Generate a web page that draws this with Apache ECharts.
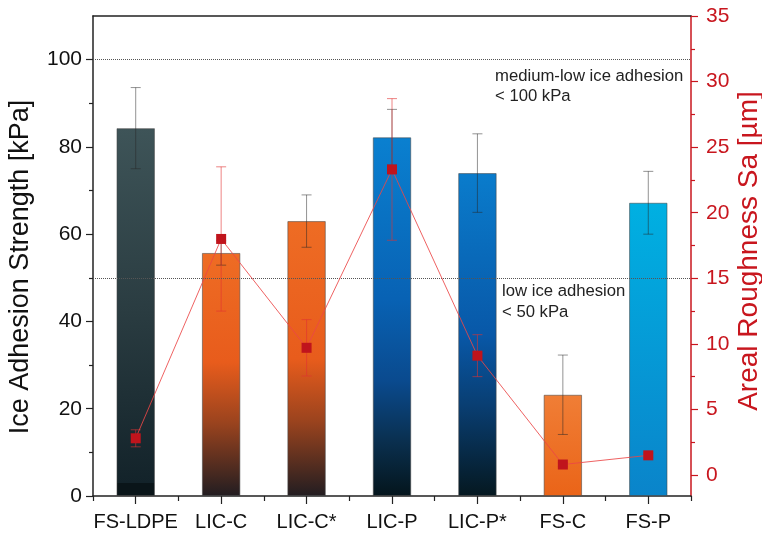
<!DOCTYPE html>
<html>
<head>
<meta charset="utf-8">
<script src="https://cdn.jsdelivr.net/npm/echarts@6/dist/echarts.min.js"></script>
<style>
html,body{margin:0;padding:0;background:#fff;}
#chart{width:762px;height:534px;}
</style>
</head>
<body>
<div id="chart"></div>
<script>
// ---- data ----
const categories = ['FS-LDPE', 'LIC-C', 'LIC-C*', 'LIC-P', 'LIC-P*', 'FS-C', 'FS-P'];
const adhesion = [84.3, 55.7, 63.0, 82.2, 74.0, 23.2, 67.2];          // kPa
const adhesionErr = [9.3, 2.8, 6.0, 6.4, 9.0, 9.1, 7.2];              // kPa
const roughness = [2.8, 18.0, 9.7, 23.3, 9.1, 0.8, 1.5];              // µm
const roughnessErr = [0.65, 5.5, 2.15, 5.4, 1.6, 0.15, 0.15];         // µm
const leftTicks = [0, 20, 40, 60, 80, 100];
const leftMinor = [10, 30, 50, 70, 90];
const rightTicks = [0, 5, 10, 15, 20, 25, 30, 35];
const rightMinor = [2.5, 7.5, 12.5, 17.5, 22.5, 27.5, 32.5];
const thresholds = [100, 50];
const leftTitle = 'Ice Adhesion Strength [kPa]';
const rightTitle = 'Areal Roughness Sa [µm]';
const noteHigh = 'medium-low ice adhesion\n< 100 kPa';
const noteLow = 'low ice adhesion\n< 50 kPa';

// ---- styles ----
const FONT = 'Liberation Sans, Arial, Helvetica, sans-serif';
const RED = '#c8161e';
function grad(stops) {
  return new echarts.graphic.LinearGradient(0, 0, 0, 1,
    stops.map(s => ({ offset: s[0], color: s[1] })));
}
const barColors = [
  grad([[0, '#3e5458'], [0.5, '#2a3c41'], [0.964, '#13232a'], [0.966, '#0a1519'], [1, '#0a1519']]),
  grad([[0, '#ee6c24'], [0.45, '#e85c1c'], [0.7, '#9a431e'], [1, '#221d21']]),
  grad([[0, '#ee6c24'], [0.5, '#e85c1c'], [0.73, '#9a431e'], [1, '#221d21']]),
  grad([[0, '#0a80d0'], [0.45, '#0862b4'], [0.68, '#0a4a8e'], [0.85, '#0a2f4e'], [1, '#04151c']]),
  grad([[0, '#0a7ccc'], [0.5, '#0858a8'], [0.72, '#093e72'], [1, '#051820']]),
  grad([[0, '#f07e36'], [1, '#ea6418']]),
  grad([[0, '#00b0e2'], [1, '#0a84ca']])
];

function errorRender(color) {
  return function (params, api) {
    const i = api.value(0), v = api.value(1), e = api.value(2);
    const top = api.coord([i, v + e]);
    const bot = api.coord([i, v - e]);
    const w = 5;
    const st = { stroke: color, lineWidth: 1 };
    return {
      type: 'group',
      children: [
        { type: 'line', shape: { x1: top[0], y1: top[1], x2: bot[0], y2: bot[1] }, style: st },
        { type: 'line', shape: { x1: top[0] - w, y1: top[1], x2: top[0] + w, y2: top[1] }, style: st },
        { type: 'line', shape: { x1: bot[0] - w, y1: bot[1], x2: bot[0] + w, y2: bot[1] }, style: st }
      ]
    };
  };
}

const chart = echarts.init(document.getElementById('chart'), null, { renderer: 'canvas' });
const option = {
  animation: false,
  backgroundColor: '#ffffff',
  grid: { left: 93, right: 71, top: 16, bottom: 38, containLabel: false },
  xAxis: [
    {
      type: 'category', data: categories, position: 'bottom',
      axisLine: { show: true, onZero: false, lineStyle: { color: '#222', width: 1.5 } },
      axisTick: { show: true, alignWithLabel: true, length: 8, lineStyle: { color: '#222', width: 1.2 } },
      axisLabel: { color: '#111', fontSize: 20, fontFamily: FONT, margin: 16, interval: 0 }
    },
    {
      type: 'category', data: categories, position: 'bottom',
      axisLine: { show: false, onZero: false },
      axisTick: { show: true, length: 5, lineStyle: { color: '#222', width: 1.2 } },
      axisLabel: { show: false }
    },
    {
      type: 'category', data: categories, position: 'top',
      axisLine: { show: true, onZero: false, lineStyle: { color: '#222', width: 1.5 } },
      axisTick: { show: false }, axisLabel: { show: false }
    }
  ],
  yAxis: [
    {
      type: 'value', position: 'left', min: 0, max: 110,
      axisLine: { show: true, onZero: false, lineStyle: { color: '#222', width: 1.5 } },
      axisTick: { show: true, length: 7, customValues: leftTicks, lineStyle: { color: '#222', width: 1.2 } },
      axisLabel: { color: '#111', fontSize: 21, fontFamily: FONT, margin: 11, customValues: leftTicks },
      splitLine: { show: false }
    },
    {
      type: 'value', position: 'left', min: 0, max: 110,
      axisLine: { show: false, onZero: false },
      axisTick: { show: true, length: 4, customValues: leftMinor, lineStyle: { color: '#222', width: 1.2 } },
      axisLabel: { show: false, customValues: leftMinor },
      splitLine: { show: false }
    },
    {
      type: 'value', position: 'right', min: -1.6, max: 35,
      axisLine: { show: true, onZero: false, lineStyle: { color: RED, width: 1.5 } },
      axisTick: { show: true, length: 7, customValues: rightTicks, lineStyle: { color: RED, width: 1.2 } },
      axisLabel: { color: RED, fontSize: 21, fontFamily: FONT, margin: 15, customValues: rightTicks },
      splitLine: { show: false }
    },
    {
      type: 'value', position: 'right', min: -1.6, max: 35,
      axisLine: { show: false, onZero: false },
      axisTick: { show: true, length: 4, customValues: rightMinor, lineStyle: { color: RED, width: 1.2 } },
      axisLabel: { show: false, customValues: rightMinor },
      splitLine: { show: false }
    }
  ],
  series: [
    {
      type: 'bar', xAxisIndex: 0, yAxisIndex: 0, barWidth: '45%',
      data: adhesion.map((v, i) => ({
        value: v,
        itemStyle: { color: barColors[i], borderColor: 'rgba(70,70,70,0.55)', borderWidth: 1 }
      })),
      markLine: {
        silent: true, symbol: 'none', label: { show: false },
        lineStyle: { type: 'dotted', color: '#555', width: 1 },
        data: thresholds.map(t => ({ yAxis: t }))
      },
      z: 2
    },
    {
      type: 'custom', xAxisIndex: 0, yAxisIndex: 0,
      renderItem: errorRender('rgba(40,40,40,0.5)'),
      encode: { x: 0, y: 1 },
      data: adhesion.map((v, i) => [i, v, adhesionErr[i]]),
      z: 3
    },
    {
      type: 'line', xAxisIndex: 0, yAxisIndex: 2,
      data: roughness,
      symbol: 'rect', symbolSize: 10,
      itemStyle: { color: '#c0141c' },
      lineStyle: { color: 'rgba(235,70,70,0.85)', width: 1 },
      z: 5
    },
    {
      type: 'custom', xAxisIndex: 0, yAxisIndex: 2,
      renderItem: errorRender('rgba(225,50,50,0.6)'),
      encode: { x: 0, y: 1 },
      data: roughness.map((v, i) => [i, v, roughnessErr[i]]),
      z: 4
    }
  ],
  graphic: [
    {
      type: 'text', x: 21, y: 267, rotation: Math.PI / 2, z: 10,
      style: { text: leftTitle, font: '27px ' + FONT, fill: '#111', align: 'center', verticalAlign: 'middle' }
    },
    {
      type: 'text', x: 749, y: 251, rotation: Math.PI / 2, z: 10,
      style: { text: rightTitle, font: '28px ' + FONT, fill: RED, align: 'center', verticalAlign: 'middle' }
    },
    {
      type: 'text', left: 495, top: 66, z: 10,
      style: { text: noteHigh, font: '16.7px ' + FONT, fill: '#222', lineHeight: 20 }
    },
    {
      type: 'text', left: 502, top: 281, z: 10,
      style: { text: noteLow, font: '16.7px ' + FONT, fill: '#222', lineHeight: 21 }
    }
  ]
};
chart.setOption(option);
</script>
</body>
</html>
